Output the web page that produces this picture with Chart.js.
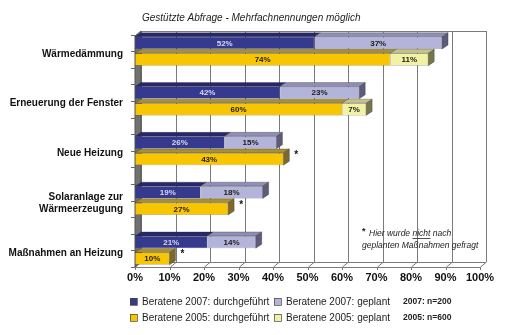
<!DOCTYPE html>
<html>
<head>
<meta charset="utf-8">
<script src="https://cdn.jsdelivr.net/npm/chart.js@4"></script>
<style>
  html, body { margin: 0; padding: 0; background: #fff; }
  #wrap { width: 506px; height: 335px; }
</style>
</head>
<body>
<div id="wrap"><canvas id="chart"></canvas></div>
<script>
const categories = ['Wärmedämmung', 'Erneuerung der Fenster', 'Neue Heizung', ['Solaranlage zur', 'Wärmeerzeugung'], 'Maßnahmen an Heizung'];
const done2007 = [52, 42, 26, 19, 21];
const planned2007 = [37, 23, 15, 18, 14];
const done2005 = [74, 60, 43, 27, 10];
const planned2005 = [11, 7, null, null, null];
const xTicks = [0, 10, 20, 30, 40, 50, 60, 70, 80, 90, 100];
const sampleNotes = ['2007: n=200', '2005: n=600'];

const FONT = "'Liberation Sans', Arial, sans-serif";
const DX = 6, DY = 4;   // bar depth
const WX = 6, WY = 5;   // wall depth

// front, top, side colours per dataset
const shades = {
  1: ['#363a8e', '#26286a', '#20224e'],
  2: ['#b4b4da', '#8e8eb6', '#5c5c78'],
  3: ['#f8c600', '#a8903a', '#7c6a2c'],
  4: ['#f2f2a4', '#c4c48a', '#76764c']
};

function poly(ctx, pts, fill) {
  ctx.beginPath();
  ctx.moveTo(pts[0][0], pts[0][1]);
  for (let i = 1; i < pts.length; i++) ctx.lineTo(pts[i][0], pts[i][1]);
  ctx.closePath();
  ctx.fillStyle = fill;
  ctx.fill();
  ctx.strokeStyle = 'rgba(40,40,40,0.6)';
  ctx.lineWidth = 0.5;
  ctx.stroke();
}

const walls = {
  id: 'walls',
  beforeDatasetsDraw(chart) {
    const ctx = chart.ctx, xs = chart.scales.x, a = chart.chartArea;
    const x0 = xs.getPixelForValue(0), x1 = xs.getPixelForValue(100);
    const wallTop = a.top + 13;
    const bot = a.bottom;
    ctx.save();
    // back wall
    ctx.fillStyle = '#fff';
    ctx.fillRect(x0 + WX, wallTop, x1 - x0, bot - WY - wallTop);
    ctx.strokeStyle = '#7a7a7a';
    ctx.lineWidth = 1;
    xTicks.forEach(v => {
      const px = Math.round(xs.getPixelForValue(v) + WX) + 0.5;
      ctx.beginPath();
      ctx.moveTo(px, wallTop);
      ctx.lineTo(px, bot - WY);
      ctx.stroke();
      // floor diagonal + front tick
      const fx = Math.round(xs.getPixelForValue(v)) + 0.5;
      ctx.beginPath();
      ctx.moveTo(fx, bot + 3);
      ctx.lineTo(fx, bot);
      ctx.lineTo(px, bot - WY);
      ctx.stroke();
    });
    ctx.beginPath();
    ctx.moveTo(x0 + WX, wallTop + 0.5);
    ctx.lineTo(x1 + WX, wallTop + 0.5);
    ctx.moveTo(x0 + WX, bot - WY + 0.5);
    ctx.lineTo(x1 + WX, bot - WY + 0.5);
    ctx.moveTo(x0, bot + 0.5);
    ctx.lineTo(x1, bot + 0.5);
    ctx.stroke();
    // left wall
    ctx.beginPath();
    ctx.moveTo(x0, wallTop + WY);
    ctx.lineTo(x0 + WX, wallTop);
    ctx.lineTo(x0 + WX, bot - WY);
    ctx.lineTo(x0, bot);
    ctx.closePath();
    ctx.fillStyle = '#717171';
    ctx.fill();
    ctx.strokeStyle = '#555';
    ctx.stroke();
    // slot ticks on the left
    const band = (a.bottom - a.top) / categories.length;
    ctx.strokeStyle = '#666';
    for (let k = 1; k <= categories.length * 3; k++) {
      const y = Math.round(a.top + k * band / 3) + 0.5;
      ctx.beginPath();
      ctx.moveTo(x0 - 4, y);
      ctx.lineTo(x0, y);
      ctx.stroke();
    }
    ctx.restore();
  },
  afterDatasetsDraw(chart) {
    const ctx = chart.ctx;
    ctx.save();
    [[1, 2], [3, 4]].forEach(ids => {
      categories.forEach((c, i) => {
        let last = null;
        ids.forEach(di => {
          if (chart.data.datasets[di].data[i] == null) return;
          const b = chart.getDatasetMeta(di).data[i].getProps(['x', 'y', 'base', 'height'], true);
          const yT = b.y - b.height / 2;
          poly(ctx, [[b.base, yT], [b.x, yT], [b.x + DX, yT - DY], [b.base + DX, yT - DY]], shades[di][1]);
          last = { b, di };
        });
        if (last) {
          const b = last.b, yT = b.y - b.height / 2, yB = b.y + b.height / 2;
          poly(ctx, [[b.x, yT], [b.x + DX, yT - DY], [b.x + DX, yB - DY], [b.x, yB]], shades[last.di][2]);
          // note: planned values were not asked in 2005
          if (ids[0] === 3 && planned2005[i] == null) {
            ctx.fillStyle = '#111';
            ctx.font = 'bold 10px ' + FONT;
            ctx.textAlign = 'left';
            ctx.textBaseline = 'middle';
            ctx.fillText('*', b.x + DX + 5, b.y - 4);
          }
        }
      });
    });
    // value labels
    ctx.font = 'bold 8px ' + FONT;
    ctx.textAlign = 'center';
    ctx.textBaseline = 'middle';
    [1, 2, 3, 4].forEach(di => {
      const meta = chart.getDatasetMeta(di);
      chart.data.datasets[di].data.forEach((v, i) => {
        if (v == null) return;
        const b = meta.data[i].getProps(['x', 'y', 'base'], true);
        ctx.fillStyle = di === 1 ? '#d8d8f4' : '#1a1a1a';
        ctx.fillText(v + '%', (b.x + b.base) / 2, b.y + 0.5);
      });
    });
    ctx.restore();
  },
  afterDraw(chart) {
    const ctx = chart.ctx;
    ctx.save();
    ctx.fillStyle = '#222';
    ctx.textBaseline = 'middle';
    ctx.textAlign = 'left';
    // title
    ctx.font = 'italic 10px ' + FONT;
    ctx.fillText('Gestützte Abfrage - Mehrfachnennungen möglich', 142, 18);
    // note
    ctx.font = 'bold 9px ' + FONT;
    ctx.fillText('*', 362, 232);
    ctx.font = 'italic 8.5px ' + FONT;
    let x = 369;
    ['Hier wurde ', 'nicht', ' nach'].forEach(part => {
      ctx.fillText(part, x, 234);
      const w = ctx.measureText(part).width;
      if (part === 'nicht') ctx.fillRect(x, 238, w, 0.8);
      x += w;
    });
    ctx.fillText('geplanten Maßnahmen gefragt', 362, 246);
    // legend
    const items = [[1, 130, 302], [2, 274, 302], [3, 130, 318], [4, 274, 318]];
    items.forEach(([di, lx, ly]) => {
      ctx.fillStyle = shades[di][0];
      ctx.fillRect(lx, ly - 4, 7, 7);
      ctx.strokeStyle = '#444';
      ctx.lineWidth = 0.7;
      ctx.strokeRect(lx + 0.5, ly - 3.5, 7, 7);
      ctx.fillStyle = '#222';
      ctx.font = '10px ' + FONT;
      ctx.fillText(chart.data.datasets[di].label, lx + 12, ly);
    });
    ctx.font = 'bold 8.5px ' + FONT;
    ctx.fillText(sampleNotes[0], 403, 302);
    ctx.fillText(sampleNotes[1], 403, 318);
    ctx.restore();
  }
};

const ctx = document.getElementById('chart').getContext('2d');
new Chart(ctx, {
  type: 'bar',
  data: {
    labels: categories,
    datasets: [
      { label: 'gap', data: categories.map(() => 0), stack: 'gap', backgroundColor: 'rgba(0,0,0,0)' },
      { label: 'Beratene 2007: durchgeführt', data: done2007, stack: 'a', backgroundColor: shades[1][0] },
      { label: 'Beratene 2007: geplant', data: planned2007, stack: 'a', backgroundColor: shades[2][0] },
      { label: 'Beratene 2005: durchgeführt', data: done2005, stack: 'b', backgroundColor: shades[3][0] },
      { label: 'Beratene 2005: geplant', data: planned2005, stack: 'b', backgroundColor: shades[4][0] }
    ]
  },
  options: {
    indexAxis: 'y',
    responsive: true,
    maintainAspectRatio: false,
    animation: false,
    devicePixelRatio: 1,
    layout: { padding: { top: 18, right: 26, left: 0, bottom: 0 } },
    datasets: {
      bar: {
        categoryPercentage: 1,
        barPercentage: 0.74,
        borderWidth: 0.5,
        borderColor: 'rgba(40,40,40,0.6)',
        borderSkipped: false
      }
    },
    plugins: {
      legend: { display: false },
      tooltip: { enabled: false }
    },
    scales: {
      x: {
        stacked: true,
        min: 0,
        max: 100,
        afterFit: s => { s.height = 68; },
        afterBuildTicks: s => { s.ticks = xTicks.map(v => ({ value: v })); },
        ticks: {
          padding: 4,
          color: '#111',
          font: { family: FONT, size: 11, weight: 'bold' },
          callback: v => v + '%'
        },
        grid: { display: false, drawTicks: false },
        border: { display: false }
      },
      y: {
        stacked: true,
        afterFit: s => { s.width = 135; },
        ticks: {
          padding: 12,
          labelOffset: 11,
          color: '#111',
          font: { family: FONT, size: 10, weight: 'bold' }
        },
        grid: { display: false, drawTicks: false },
        border: { display: false }
      }
    }
  },
  plugins: [walls]
});
</script>
</body>
</html>
